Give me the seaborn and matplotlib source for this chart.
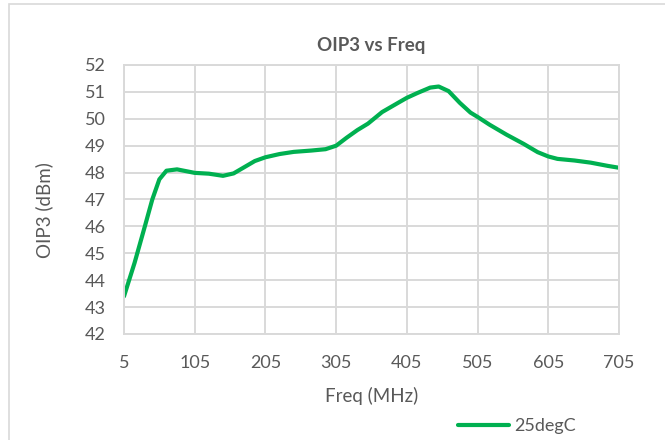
import pandas as pd
import matplotlib
matplotlib.use("Agg")
import matplotlib.pyplot as plt
import seaborn as sns
from matplotlib.patches import Rectangle

# values
freq_mhz = [5, 20, 35, 45, 55, 65, 80, 105, 125, 145, 160, 175, 190, 205, 225,
            245, 270, 290, 305, 320, 335, 350, 370, 395, 405, 420, 438, 450, 464,
            480, 495, 505, 522, 546, 570, 590, 605, 618, 642, 665, 689, 705]
oip3_dbm = [43.4, 44.65, 46.05, 47.0, 47.75, 48.07, 48.12, 47.99, 47.96, 47.88,
            47.97, 48.2, 48.43, 48.57, 48.69, 48.77, 48.82, 48.87, 49.0, 49.3,
            49.58, 49.82, 50.25, 50.63, 50.78, 50.96, 51.16, 51.2, 51.03, 50.59,
            50.23, 50.07, 49.78, 49.41, 49.07, 48.76, 48.6, 48.51, 48.45, 48.37,
            48.25, 48.18]
series_name = "25degC"
x_ticks = [5, 105, 205, 305, 405, 505, 605, 705]
y_ticks = list(range(42, 53))

df = pd.DataFrame({"Freq": freq_mhz, "OIP3": oip3_dbm, "series": series_name})

sns.set_theme(style="white")
plt.rcParams["font.family"] = ["Lato", "DejaVu Sans"]

text_gray = "#595959"
grid_gray = "#d9d9d9"

fig = plt.figure(figsize=(6.65, 4.4), dpi=100)
ax = fig.add_axes([124 / 665, 1 - 334 / 440, 495 / 665, 269 / 440])

sns.lineplot(data=df, x="Freq", y="OIP3", hue="series", palette=["#00b050"],
             linewidth=3, ax=ax, legend=False)

ax.set_xlim(5, 705)
ax.set_ylim(42, 52)
ax.set_xticks(x_ticks)
ax.set_yticks(y_ticks)
ax.grid(True, color=grid_gray, linewidth=1.4)
ax.set_axisbelow(True)
for sp in ax.spines.values():
    sp.set_color(grid_gray)
    sp.set_linewidth(1.4)
ax.tick_params(axis="both", length=0, labelsize=13, labelcolor=text_gray)
ax.tick_params(axis="x", pad=15)
ax.tick_params(axis="y", pad=13)

ax.set_title("OIP3 vs Freq", fontsize=13.5, fontweight="bold", color=text_gray, pad=10)
ax.set_xlabel("Freq (MHz)", fontsize=13.5, color=text_gray)
ax.set_ylabel("OIP3 (dBm)", fontsize=13.5, color=text_gray)
ax.xaxis.set_label_coords(0.5, (334 - 396) / 269)
ax.yaxis.set_label_coords((44.5 - 124) / 495, (334 - 210) / 269)
ax.xaxis.label.set_va("center")
ax.yaxis.label.set_va("center")

handle = plt.Line2D([], [], color="#00b050", linewidth=3)
fig.legend([handle], [series_name], loc="center left",
           bbox_to_anchor=(458 / 665, 1 - 426 / 440), frameon=False,
           fontsize=13, labelcolor=text_gray, handlelength=2.8,
           handletextpad=0.3, borderaxespad=0, borderpad=0)

fig.patches.append(Rectangle((9 / 665, -0.2), 1.2, 1.2 - 4 / 440,
                             transform=fig.transFigure, fill=False,
                             edgecolor=grid_gray, linewidth=1.2))

fig.savefig("out.png", dpi=100)
